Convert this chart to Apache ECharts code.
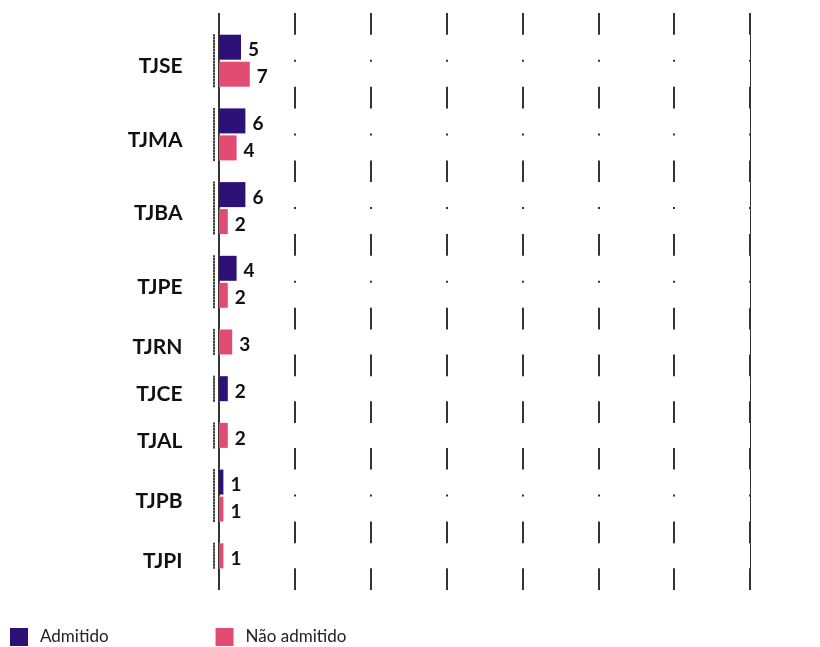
<!DOCTYPE html>
<html>
<head>
<meta charset="utf-8">
<script src="https://cdn.jsdelivr.net/npm/echarts@6/dist/echarts.min.js"></script>
<style>
  html, body { margin: 0; padding: 0; background: #fff; }
  #chart { width: 820px; height: 647px; }
</style>
</head>
<body>
<div id="chart"></div>
<script>
  // dados
  const categories = ['TJSE', 'TJMA', 'TJBA', 'TJPE', 'TJRN', 'TJCE', 'TJAL', 'TJPB', 'TJPI'];
  const admitido = [5, 6, 6, 4, null, 2, null, 1, null];
  const naoAdmitido = [7, 4, 2, 2, 3, null, 2, 1, 1];
  const seriesNames = ['Admitido', 'Não admitido'];

  const colors = ['#2e1177', '#e24c72'];
  const font = 'Lato, "Noto Sans", sans-serif';

  // layout
  const barW = 25, pairGap = 2, rowGap = 21.7, top0 = 13;
  const left = 219, right = 70;
  const xMax = 120.75, xStep = 17.25;

  let grids = [], xAxes = [], yAxes = [], series = [];
  let y = top0 + rowGap;

  categories.forEach(function (cat, i) {
    const vals = [admitido[i], naoAdmitido[i]];
    const used = [0, 1].filter(function (k) { return vals[k] != null; });
    const h = used.length * barW + (used.length - 1) * pairGap;
    const idx = i + 1;
    grids.push({ left: left, right: right, top: y, height: h });
    xAxes.push({ gridIndex: idx, type: 'value', min: 0, max: xMax, show: false });
    yAxes.push({
      gridIndex: idx,
      type: 'category',
      data: [cat],
      offset: 5.5,
      axisLine: { show: true, onZero: false, lineStyle: { color: '#000', width: 1.5, type: [1.5, 1.5] } },
      axisTick: { show: false },
      axisLabel: {
        margin: 31, verticalAlign: 'top', padding: [-5, 0, 0, 0],
        fontFamily: font, fontWeight: 'bold', fontSize: 21, color: '#111'
      }
    });
    used.forEach(function (k) {
      series.push({
        type: 'bar',
        name: seriesNames[k],
        xAxisIndex: idx,
        yAxisIndex: idx,
        data: [vals[k]],
        barWidth: barW,
        barGap: (pairGap / barW * 100) + '%',
        itemStyle: { color: colors[k] },
        showBackground: true,
        backgroundStyle: { color: '#fff' },
        label: {
          show: true,
          position: 'right',
          distance: 7,
          offset: [0, 3],
          fontFamily: font,
          fontWeight: 'bold',
          fontSize: 19,
          color: '#111'
        }
      });
    });
    y += h + rowGap;
  });

  // grade de fundo com as linhas verticais
  grids.unshift({ left: left, right: right, top: top0, height: y - top0 });
  xAxes.unshift({
    gridIndex: 0, type: 'value', min: 0, max: xMax, interval: xStep,
    axisLine: { show: false }, axisTick: { show: false }, axisLabel: { show: false },
    splitLine: { show: true, lineStyle: { color: '#000', width: 1.6 } }
  });
  yAxes.unshift({ gridIndex: 0, type: 'value', show: false });

  const chart = echarts.init(document.getElementById('chart'));
  chart.setOption({
    animation: false,
    color: colors,
    legend: {
      data: seriesNames,
      left: 10,
      top: 628,
      padding: 0,
      icon: 'rect',
      itemWidth: 18,
      itemHeight: 18,
      itemGap: 107,
      textStyle: { fontFamily: font, fontSize: 17, color: '#222', padding: [2, 0, 0, 7] }
    },
    grid: grids,
    xAxis: xAxes,
    yAxis: yAxes,
    series: series
  });
</script>
</body>
</html>
